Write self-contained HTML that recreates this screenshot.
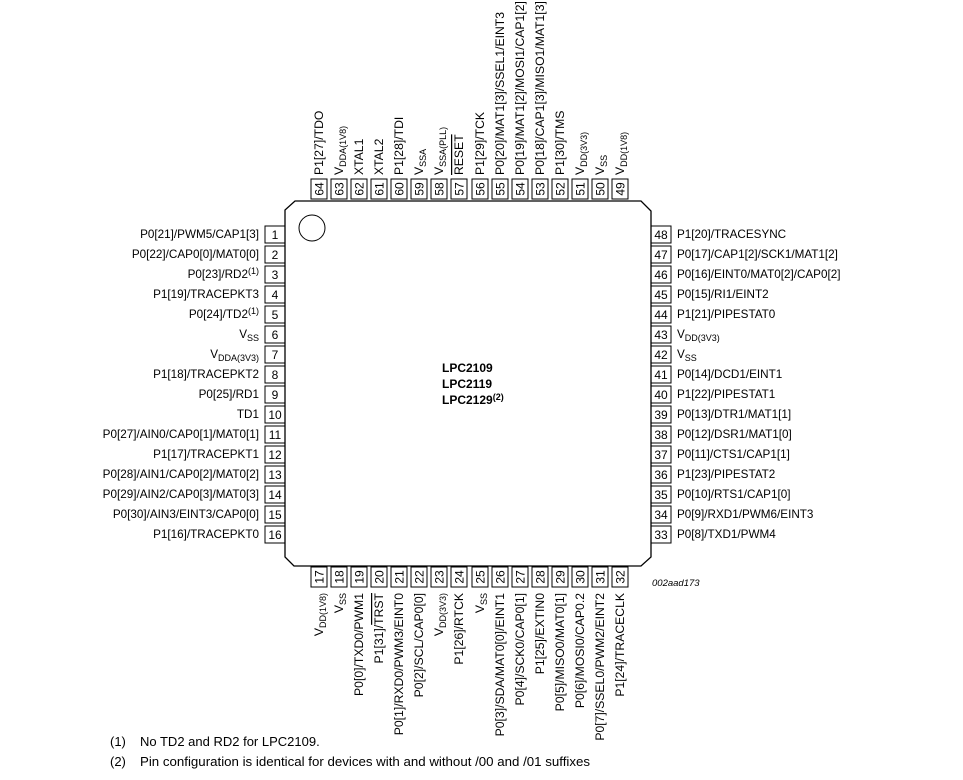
<!DOCTYPE html>
<html><head><meta charset="utf-8"><style>
html,body{margin:0;padding:0;background:#fff;}
svg{display:block;font-family:"Liberation Sans",Arial,sans-serif;}
text{fill:#000;font-size:11.7px;}
.v text{font-size:12.2px;}
.n{font-size:12px;}
.s{font-size:9px;}
</style></head><body>
<svg width="963" height="780" viewBox="0 0 963 780" xmlns="http://www.w3.org/2000/svg">
<rect width="963" height="780" fill="#fff"/>
<path d="M295,201 L641,201 L651,211 L651,557 L641,566 L294,566 L285,557 L285,210 Z" fill="none" stroke="#000" stroke-width="1.3"/>
<circle cx="312" cy="228" r="13" fill="none" stroke="#000" stroke-width="1"/>
<g font-weight="bold"><text x="442" y="372" style="font-size:12px">LPC2109</text><text x="442" y="388" style="font-size:12px">LPC2119</text><text x="442" y="404" style="font-size:12px">LPC2129<tspan class="s" dy="-4">(2)</tspan></text></g>
<text x="652" y="586" font-style="italic" style="font-size:9.5px">002aad173</text>
<text x="110" y="746" style="font-size:13px">(1)</text><text x="140" y="746" style="font-size:13px">No TD2 and RD2 for LPC2109.</text>
<text x="110" y="766" style="font-size:13px">(2)</text><text x="140" y="766" style="font-size:13px" textLength="450" lengthAdjust="spacingAndGlyphs">Pin configuration is identical for devices with and without /00 and /01 suffixes</text>

<g fill="none" stroke="#000" stroke-width="1">
<rect x="265" y="226" width="20" height="17"/><rect x="265" y="246" width="20" height="17"/><rect x="265" y="266" width="20" height="17"/><rect x="265" y="286" width="20" height="17"/><rect x="265" y="306" width="20" height="17"/><rect x="265" y="326" width="20" height="17"/><rect x="265" y="346" width="20" height="17"/><rect x="265" y="366" width="20" height="17"/><rect x="265" y="386" width="20" height="17"/><rect x="265" y="406" width="20" height="17"/><rect x="265" y="426" width="20" height="17"/><rect x="265" y="446" width="20" height="17"/><rect x="265" y="466" width="20" height="17"/><rect x="265" y="486" width="20" height="17"/><rect x="265" y="506" width="20" height="17"/><rect x="265" y="526" width="20" height="17"/>
<rect x="651" y="226" width="20" height="17"/><rect x="651" y="246" width="20" height="17"/><rect x="651" y="266" width="20" height="17"/><rect x="651" y="286" width="20" height="17"/><rect x="651" y="306" width="20" height="17"/><rect x="651" y="326" width="20" height="17"/><rect x="651" y="346" width="20" height="17"/><rect x="651" y="366" width="20" height="17"/><rect x="651" y="386" width="20" height="17"/><rect x="651" y="406" width="20" height="17"/><rect x="651" y="426" width="20" height="17"/><rect x="651" y="446" width="20" height="17"/><rect x="651" y="466" width="20" height="17"/><rect x="651" y="486" width="20" height="17"/><rect x="651" y="506" width="20" height="17"/><rect x="651" y="526" width="20" height="17"/>
</g>
<g text-anchor="middle">
<text x="275" y="239" class="n">1</text><text x="275" y="259" class="n">2</text><text x="275" y="279" class="n">3</text><text x="275" y="299" class="n">4</text><text x="275" y="319" class="n">5</text><text x="275" y="339" class="n">6</text><text x="275" y="359" class="n">7</text><text x="275" y="379" class="n">8</text><text x="275" y="399" class="n">9</text><text x="275" y="419" class="n">10</text><text x="275" y="439" class="n">11</text><text x="275" y="459" class="n">12</text><text x="275" y="479" class="n">13</text><text x="275" y="499" class="n">14</text><text x="275" y="519" class="n">15</text><text x="275" y="539" class="n">16</text>
<text x="661" y="239" class="n">48</text><text x="661" y="259" class="n">47</text><text x="661" y="279" class="n">46</text><text x="661" y="299" class="n">45</text><text x="661" y="319" class="n">44</text><text x="661" y="339" class="n">43</text><text x="661" y="359" class="n">42</text><text x="661" y="379" class="n">41</text><text x="661" y="399" class="n">40</text><text x="661" y="419" class="n">39</text><text x="661" y="439" class="n">38</text><text x="661" y="459" class="n">37</text><text x="661" y="479" class="n">36</text><text x="661" y="499" class="n">35</text><text x="661" y="519" class="n">34</text><text x="661" y="539" class="n">33</text>
</g>
<g text-anchor="end">
<text x="259" y="238">P0[21]/PWM5/CAP1[3]</text>
<text x="259" y="258">P0[22]/CAP0[0]/MAT0[0]</text>
<text x="259" y="278">P0[23]/RD2<tspan class="s" dy="-4">(1)</tspan></text>
<text x="259" y="298">P1[19]/TRACEPKT3</text>
<text x="259" y="318">P0[24]/TD2<tspan class="s" dy="-4">(1)</tspan></text>
<text x="259" y="338">V<tspan class="s" dy="3">SS</tspan></text>
<text x="259" y="358">V<tspan class="s" dy="3">DDA(3V3)</tspan></text>
<text x="259" y="378">P1[18]/TRACEPKT2</text>
<text x="259" y="398">P0[25]/RD1</text>
<text x="259" y="418">TD1</text>
<text x="259" y="438">P0[27]/AIN0/CAP0[1]/MAT0[1]</text>
<text x="259" y="458">P1[17]/TRACEPKT1</text>
<text x="259" y="478">P0[28]/AIN1/CAP0[2]/MAT0[2]</text>
<text x="259" y="498">P0[29]/AIN2/CAP0[3]/MAT0[3]</text>
<text x="259" y="518">P0[30]/AIN3/EINT3/CAP0[0]</text>
<text x="259" y="538">P1[16]/TRACEPKT0</text>
</g>
<g>
<text x="677" y="238">P1[20]/TRACESYNC</text>
<text x="677" y="258">P0[17]/CAP1[2]/SCK1/MAT1[2]</text>
<text x="677" y="278">P0[16]/EINT0/MAT0[2]/CAP0[2]</text>
<text x="677" y="298">P0[15]/RI1/EINT2</text>
<text x="677" y="318">P1[21]/PIPESTAT0</text>
<text x="677" y="338">V<tspan class="s" dy="3">DD(3V3)</tspan></text>
<text x="677" y="358">V<tspan class="s" dy="3">SS</tspan></text>
<text x="677" y="378">P0[14]/DCD1/EINT1</text>
<text x="677" y="398">P1[22]/PIPESTAT1</text>
<text x="677" y="418">P0[13]/DTR1/MAT1[1]</text>
<text x="677" y="438">P0[12]/DSR1/MAT1[0]</text>
<text x="677" y="458">P0[11]/CTS1/CAP1[1]</text>
<text x="677" y="478">P1[23]/PIPESTAT2</text>
<text x="677" y="498">P0[10]/RTS1/CAP1[0]</text>
<text x="677" y="518">P0[9]/RXD1/PWM6/EINT3</text>
<text x="677" y="538">P0[8]/TXD1/PWM4</text>
</g>

<g fill="none" stroke="#000" stroke-width="1">
<rect x="311" y="179" width="16" height="20"/><rect x="331" y="179" width="16" height="20"/><rect x="351" y="179" width="16" height="20"/><rect x="371" y="179" width="16" height="20"/><rect x="391" y="179" width="16" height="20"/><rect x="411" y="179" width="16" height="20"/><rect x="431" y="179" width="16" height="20"/><rect x="451" y="179" width="16" height="20"/><rect x="472" y="179" width="16" height="20"/><rect x="492" y="179" width="16" height="20"/><rect x="512" y="179" width="16" height="20"/><rect x="532" y="179" width="16" height="20"/><rect x="552" y="179" width="16" height="20"/><rect x="572" y="179" width="16" height="20"/><rect x="592" y="179" width="16" height="20"/><rect x="612" y="179" width="16" height="20"/>
<rect x="311" y="567" width="16" height="20"/><rect x="331" y="567" width="16" height="20"/><rect x="351" y="567" width="16" height="20"/><rect x="371" y="567" width="16" height="20"/><rect x="391" y="567" width="16" height="20"/><rect x="411" y="567" width="16" height="20"/><rect x="431" y="567" width="16" height="20"/><rect x="451" y="567" width="16" height="20"/><rect x="472" y="567" width="16" height="20"/><rect x="492" y="567" width="16" height="20"/><rect x="512" y="567" width="16" height="20"/><rect x="532" y="567" width="16" height="20"/><rect x="552" y="567" width="16" height="20"/><rect x="572" y="567" width="16" height="20"/><rect x="592" y="567" width="16" height="20"/><rect x="612" y="567" width="16" height="20"/>
</g>
<g text-anchor="middle">
<text class="n" transform="translate(323.5,189) rotate(-90)">64</text><text class="n" transform="translate(343.5,189) rotate(-90)">63</text><text class="n" transform="translate(363.5,189) rotate(-90)">62</text><text class="n" transform="translate(383.5,189) rotate(-90)">61</text><text class="n" transform="translate(403.5,189) rotate(-90)">60</text><text class="n" transform="translate(423.5,189) rotate(-90)">59</text><text class="n" transform="translate(443.5,189) rotate(-90)">58</text><text class="n" transform="translate(463.5,189) rotate(-90)">57</text><text class="n" transform="translate(484.5,189) rotate(-90)">56</text><text class="n" transform="translate(504.5,189) rotate(-90)">55</text><text class="n" transform="translate(524.5,189) rotate(-90)">54</text><text class="n" transform="translate(544.5,189) rotate(-90)">53</text><text class="n" transform="translate(564.5,189) rotate(-90)">52</text><text class="n" transform="translate(584.5,189) rotate(-90)">51</text><text class="n" transform="translate(604.5,189) rotate(-90)">50</text><text class="n" transform="translate(624.5,189) rotate(-90)">49</text>
<text class="n" transform="translate(323.5,577) rotate(-90)">17</text><text class="n" transform="translate(343.5,577) rotate(-90)">18</text><text class="n" transform="translate(363.5,577) rotate(-90)">19</text><text class="n" transform="translate(383.5,577) rotate(-90)">20</text><text class="n" transform="translate(403.5,577) rotate(-90)">21</text><text class="n" transform="translate(423.5,577) rotate(-90)">22</text><text class="n" transform="translate(443.5,577) rotate(-90)">23</text><text class="n" transform="translate(463.5,577) rotate(-90)">24</text><text class="n" transform="translate(484.5,577) rotate(-90)">25</text><text class="n" transform="translate(504.5,577) rotate(-90)">26</text><text class="n" transform="translate(524.5,577) rotate(-90)">27</text><text class="n" transform="translate(544.5,577) rotate(-90)">28</text><text class="n" transform="translate(564.5,577) rotate(-90)">29</text><text class="n" transform="translate(584.5,577) rotate(-90)">30</text><text class="n" transform="translate(604.5,577) rotate(-90)">31</text><text class="n" transform="translate(624.5,577) rotate(-90)">32</text>
</g>
<g class="v">
<text transform="translate(323,175) rotate(-90)">P1[27]/TDO</text>
<text transform="translate(343,175) rotate(-90)">V<tspan class="s" dy="3">DDA(1V8)</tspan></text>
<text transform="translate(363,175) rotate(-90)">XTAL1</text>
<text transform="translate(383,175) rotate(-90)">XTAL2</text>
<text transform="translate(403,175) rotate(-90)">P1[28]/TDI</text>
<text transform="translate(423,175) rotate(-90)">V<tspan class="s" dy="3">SSA</tspan></text>
<text transform="translate(443,175) rotate(-90)">V<tspan class="s" dy="3">SSA(PLL)</tspan></text>
<text transform="translate(463,175) rotate(-90)" text-decoration="overline">RESET</text>
<text transform="translate(484,175) rotate(-90)">P1[29]/TCK</text>
<text transform="translate(504,175) rotate(-90)">P0[20]/MAT1[3]/SSEL1/EINT3</text>
<text transform="translate(524,175) rotate(-90)">P0[19]/MAT1[2]/MOSI1/CAP1[2]</text>
<text transform="translate(544,175) rotate(-90)">P0[18]/CAP1[3]/MISO1/MAT1[3]</text>
<text transform="translate(564,175) rotate(-90)">P1[30]/TMS</text>
<text transform="translate(584,175) rotate(-90)">V<tspan class="s" dy="3">DD(3V3)</tspan></text>
<text transform="translate(604,175) rotate(-90)">V<tspan class="s" dy="3">SS</tspan></text>
<text transform="translate(624,175) rotate(-90)">V<tspan class="s" dy="3">DD(1V8)</tspan></text>
</g>
<g text-anchor="end" class="v">
<text transform="translate(323,593) rotate(-90)">V<tspan class="s" dy="3">DD(1V8)</tspan></text>
<text transform="translate(343,593) rotate(-90)">V<tspan class="s" dy="3">SS</tspan></text>
<text transform="translate(363,593) rotate(-90)">P0[0]/TXD0/PWM1</text>
<text transform="translate(383,593) rotate(-90)">P1[31]/<tspan text-decoration="overline">TRST</tspan></text>
<text transform="translate(403,593) rotate(-90)">P0[1]/RXD0/PWM3/EINT0</text>
<text transform="translate(423,593) rotate(-90)">P0[2]/SCL/CAP0[0]</text>
<text transform="translate(443,593) rotate(-90)">V<tspan class="s" dy="3">DD(3V3)</tspan></text>
<text transform="translate(463,593) rotate(-90)">P1[26]/RTCK</text>
<text transform="translate(484,593) rotate(-90)">V<tspan class="s" dy="3">SS</tspan></text>
<text transform="translate(504,593) rotate(-90)">P0[3]/SDA/MAT0[0]/EINT1</text>
<text transform="translate(524,593) rotate(-90)">P0[4]/SCK0/CAP0[1]</text>
<text transform="translate(544,593) rotate(-90)">P1[25]/EXTIN0</text>
<text transform="translate(564,593) rotate(-90)">P0[5]/MISO0/MAT0[1]</text>
<text transform="translate(584,593) rotate(-90)">P0[6]/MOSI0/CAP0.2</text>
<text transform="translate(604,593) rotate(-90)">P0[7]/SSEL0/PWM2/EINT2</text>
<text transform="translate(624,593) rotate(-90)">P1[24]/TRACECLK</text>
</g>
</svg>
</body></html>
